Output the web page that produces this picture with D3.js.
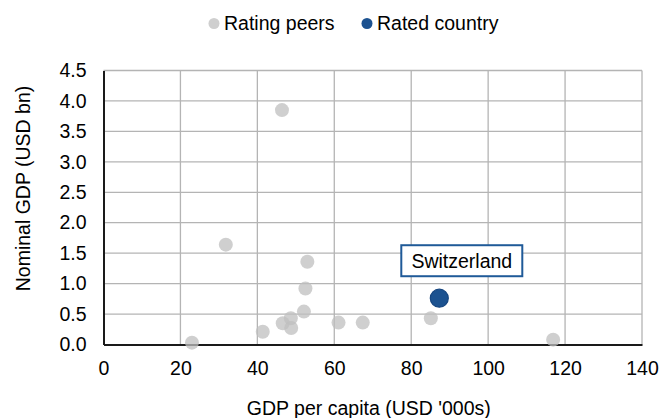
<!DOCTYPE html>
<html>
<head>
<meta charset="utf-8">
<script src="https://cdn.jsdelivr.net/npm/d3@7"></script>
<style>
  body { margin: 0; background: #fff; }
  text { font-family: "Liberation Sans", Arial, sans-serif; fill: #000; }
</style>
</head>
<body>
<div class="canvas"></div>
<script>
// data
const peerGdpPerCapita = [23.0, 46.4, 31.8, 53.0, 52.5, 52.1, 48.7, 46.6, 48.8, 41.4, 61.1, 67.4, 85.1, 116.9];
const peerGdp = [0.03, 3.85, 1.64, 1.36, 0.92, 0.54, 0.43, 0.35, 0.27, 0.21, 0.36, 0.36, 0.43, 0.08];
const ratedName = ["Switzerland"];
const ratedGdpPerCapita = [87.3];
const ratedGdp = [0.76];
const xTicks = [0, 20, 40, 60, 80, 100, 120, 140];
const yTicks = [0, 0.5, 1, 1.5, 2, 2.5, 3, 3.5, 4, 4.5];
const legendLabels = ["Rating peers", "Rated country"];

const peers = peerGdpPerCapita.map((d, i) => ({ x: d, y: peerGdp[i] }));
const rated = ratedName.map((n, i) => ({ name: n, x: ratedGdpPerCapita[i], y: ratedGdp[i] }));

const chartSet = { width: 661, height: 418 };
const plot = { left: 103.5, right: 642, top: 70.5, bottom: 344.5 };
const peerColor = "#bfbfbf";
const ratedColor = "#1c5290";

const svg = d3
  .select(".canvas")
  .append("svg")
  .attr("width", chartSet.width)
  .attr("height", chartSet.height);

const x = d3.scaleLinear().domain([0, 140]).range([plot.left, plot.right]);
const y = d3.scaleLinear().domain([0, 4.5]).range([plot.bottom, plot.top]);

// gridlines
const grid = svg.append("g").attr("stroke", "#b4b4b4").attr("stroke-width", 1.3);
grid.selectAll(".gx")
  .data(xTicks.filter((d) => d > 0))
  .enter()
  .append("line")
  .attr("x1", (d) => x(d)).attr("x2", (d) => x(d))
  .attr("y1", plot.top).attr("y2", plot.bottom);
grid.selectAll(".gy")
  .data(yTicks.filter((d) => d > 0))
  .enter()
  .append("line")
  .attr("x1", plot.left).attr("x2", plot.right)
  .attr("y1", (d) => y(d)).attr("y2", (d) => y(d));

// axes
const xAxis = d3.axisBottom(x).tickValues(xTicks).tickSize(0).tickPadding(17).tickFormat(d3.format("d"));
const yAxis = d3.axisLeft(y).tickValues(yTicks).tickSize(0).tickPadding(17).tickFormat(d3.format(".1f"));

const gx = svg.append("g").attr("transform", `translate(0, ${plot.bottom})`).call(xAxis);
const gy = svg.append("g").attr("transform", `translate(${plot.left}, 0)`).call(yAxis);

[gx, gy].forEach((g) => {
  g.select(".domain").attr("stroke", "#1a1a1a").attr("stroke-width", 2);
  g.selectAll("text")
    .style("font-family", '"Liberation Sans", Arial, sans-serif')
    .style("font-size", "19.5px")
    .attr("fill", "#000");
});

// axis titles
svg.append("text")
  .attr("x", (plot.left + plot.right) / 2 - 4)
  .attr("y", 415)
  .attr("text-anchor", "middle")
  .style("font-size", "19.5px")
  .text("GDP per capita (USD '000s)");

svg.append("text")
  .attr("transform", `translate(30, ${(plot.top + plot.bottom) / 2 - 19}) rotate(-90)`)
  .attr("text-anchor", "middle")
  .style("font-size", "19.5px")
  .text("Nominal GDP (USD bn)");

// legend
const legendPos = [214, 367];
const legendColors = [peerColor, ratedColor];
const legend = svg.append("g");
legendLabels.forEach((l, i) => {
  legend.append("circle")
    .attr("cx", legendPos[i]).attr("cy", 23.5).attr("r", 5.5)
    .attr("fill", i === 0 ? "#cfcfcf" : legendColors[i]);
  legend.append("text")
    .attr("x", legendPos[i] + 10).attr("y", 29.5)
    .style("font-size", "19.5px")
    .text(l);
});

// peer dots
svg.append("g")
  .selectAll("circle")
  .data(peers)
  .enter()
  .append("circle")
  .attr("cx", (d) => x(d.x))
  .attr("cy", (d) => y(d.y))
  .attr("r", 7)
  .attr("fill", peerColor)
  .attr("fill-opacity", 0.75);

// rated country
svg.append("g")
  .selectAll("circle")
  .data(rated)
  .enter()
  .append("circle")
  .attr("cx", (d) => x(d.x))
  .attr("cy", (d) => y(d.y))
  .attr("r", 9)
  .attr("fill", ratedColor)
  .attr("stroke", "#164680")
  .attr("stroke-width", 1.2);

// label box
const lab = svg.append("g")
  .selectAll("g")
  .data(rated)
  .enter()
  .append("g")
  .attr("transform", (d) => `translate(${x(d.x) - 38}, ${y(d.y) - 53})`);

lab.append("rect")
  .attr("width", 121).attr("height", 31)
  .attr("fill", "#fff")
  .attr("stroke", "#1f5a98")
  .attr("stroke-width", 2);

lab.append("text")
  .attr("x", 60.5).attr("y", 22.5)
  .attr("text-anchor", "middle")
  .style("font-size", "19.5px")
  .text((d) => d.name);
</script>
</body>
</html>
